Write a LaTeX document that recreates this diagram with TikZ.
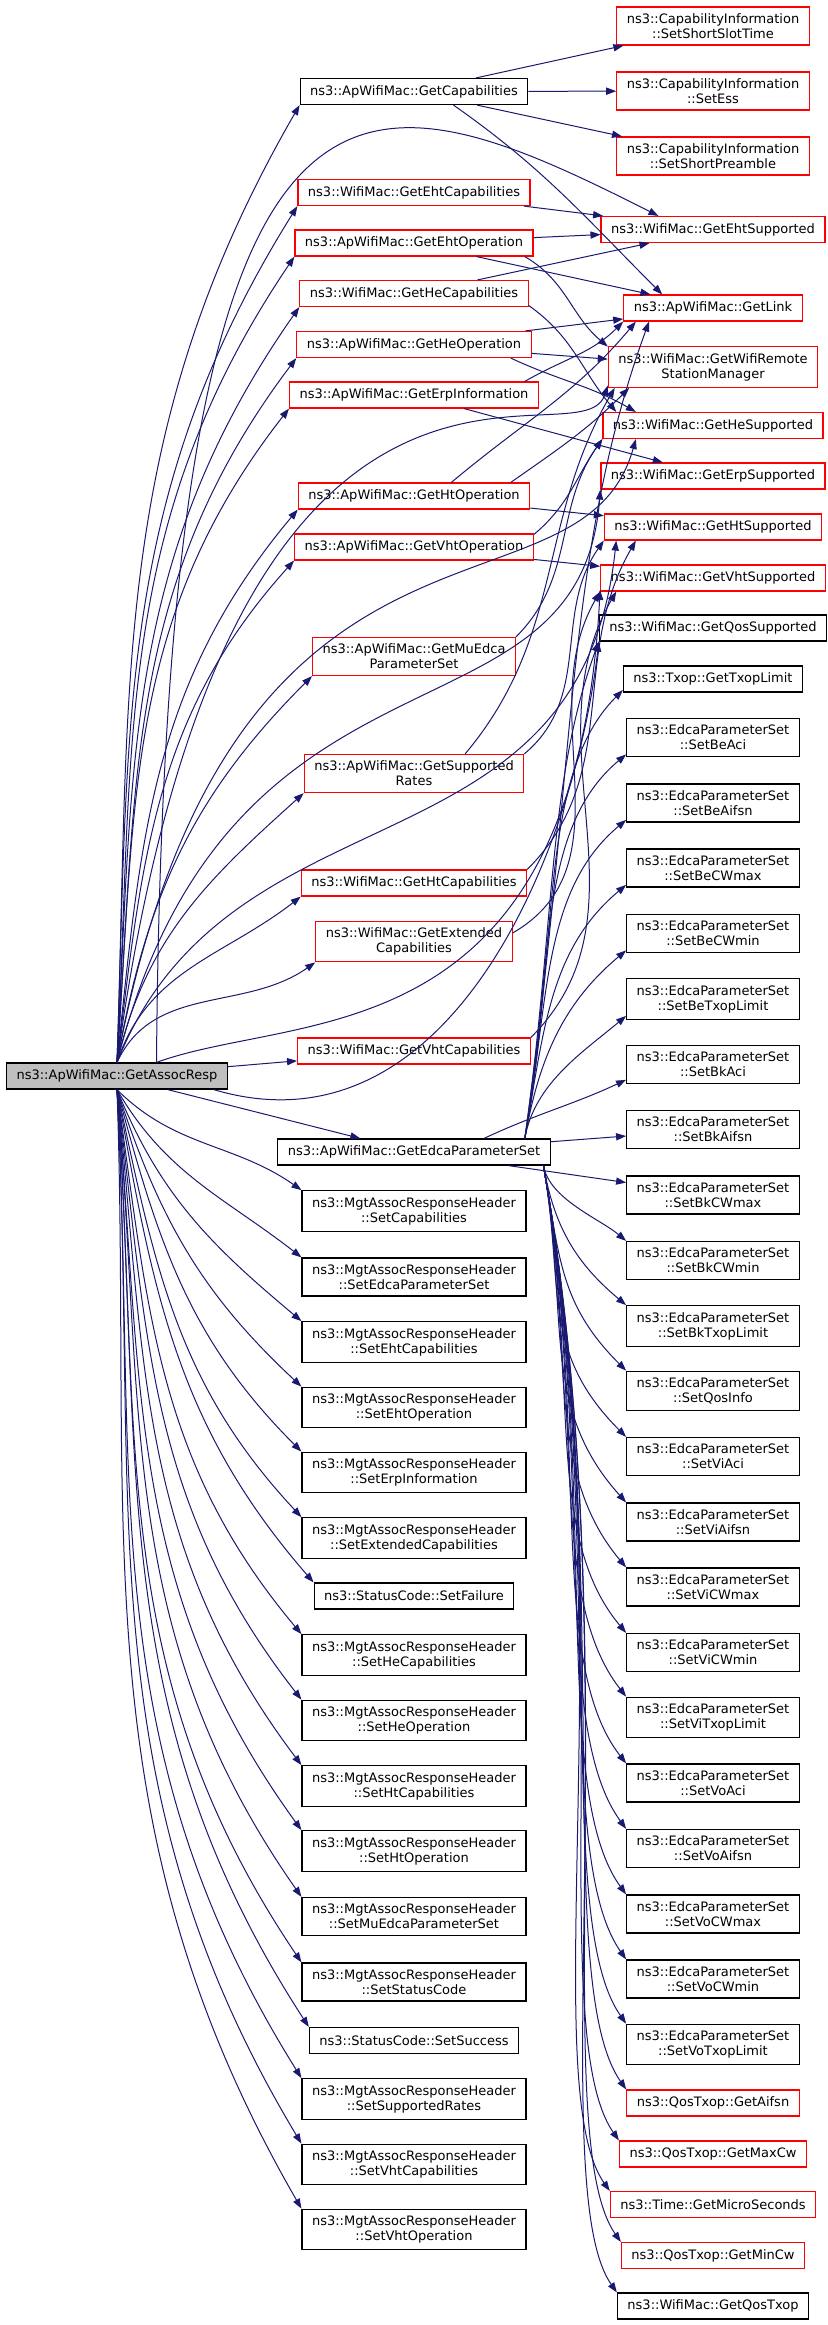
\documentclass[tikz,border=0pt]{standalone}
\usepackage{fontspec}
\usepackage{tikz}
\usetikzlibrary{arrows.meta}
\newfontfamily\graphfont{DejaVu Sans}
\definecolor{edgeblue}{RGB}{25,25,112}
\definecolor{nodered}{RGB}{255,0,0}
\definecolor{rootgrey}{RGB}{191,191,191}

\begin{document}
\begin{tikzpicture}[x=0.5pt, y=0.5pt,
   fn/.style={draw=black, line width=0.6pt, font=\graphfont\fontsize{6.5}{7.5}\selectfont,
     inner xsep=5pt, inner ysep=3.25pt, minimum height=13pt, align=center},
   fnred/.style={fn, draw=nodered},
   fnroot/.style={fn, fill=rootgrey},
   call/.style={-{Stealth[length=5pt, width=3.6pt, inset=0pt]}, edgeblue, line width=0.5pt}]

  \useasboundingbox (0,0) rectangle (828,-2325);

  % caller
  \node[fnroot] (assocresp) at (117,-1076) {ns3::ApWifiMac::GetAssocResp};

  % middle column: direct callees
  \node[fn] (getcap) at (414,-91.5) {ns3::ApWifiMac::GetCapabilities};
  \node[fnred] (ehtcap) at (414,-192.5) {ns3::WifiMac::GetEhtCapabilities};
  \node[fnred] (ehtop) at (414,-243) {ns3::ApWifiMac::GetEhtOperation};
  \node[fnred] (hecap) at (414,-293.5) {ns3::WifiMac::GetHeCapabilities};
  \node[fnred] (heop) at (414,-344.5) {ns3::ApWifiMac::GetHeOperation};
  \node[fnred] (erpinfo) at (414,-395) {ns3::ApWifiMac::GetErpInformation};
  \node[fnred] (htop) at (414,-496) {ns3::ApWifiMac::GetHtOperation};
  \node[fnred] (vhtop) at (414,-547) {ns3::ApWifiMac::GetVhtOperation};
  \node[fnred] (muedca) at (414,-656.5) {ns3::ApWifiMac::GetMuEdca\\ParameterSet};
  \node[fnred] (suprates) at (414,-773.5) {ns3::ApWifiMac::GetSupported\\Rates};
  \node[fnred] (htcap) at (414,-883) {ns3::WifiMac::GetHtCapabilities};
  \node[fnred] (extcap) at (414,-941.5) {ns3::WifiMac::GetExtended\\Capabilities};
  \node[fnred] (vhtcap) at (414,-1051) {ns3::WifiMac::GetVhtCapabilities};
  \node[fn] (edcaset) at (414,-1152) {ns3::ApWifiMac::GetEdcaParameterSet};
  \node[fn] (mcap) at (414,-1211) {ns3::MgtAssocResponseHeader\\::SetCapabilities};
  \node[fn] (medca) at (414,-1277) {ns3::MgtAssocResponseHeader\\::SetEdcaParameterSet};
  \node[fn] (mehtcap) at (414,-1342) {ns3::MgtAssocResponseHeader\\::SetEhtCapabilities};
  \node[fn] (mehtop) at (414,-1407.5) {ns3::MgtAssocResponseHeader\\::SetEhtOperation};
  \node[fn] (merp) at (414,-1472.5) {ns3::MgtAssocResponseHeader\\::SetErpInformation};
  \node[fn] (mext) at (414,-1538) {ns3::MgtAssocResponseHeader\\::SetExtendedCapabilities};
  \node[fn] (sfail) at (414,-1596) {ns3::StatusCode::SetFailure};
  \node[fn] (mhecap) at (414,-1655) {ns3::MgtAssocResponseHeader\\::SetHeCapabilities};
  \node[fn] (mheop) at (414,-1720.5) {ns3::MgtAssocResponseHeader\\::SetHeOperation};
  \node[fn] (mhtcap) at (414,-1786) {ns3::MgtAssocResponseHeader\\::SetHtCapabilities};
  \node[fn] (mhtop) at (414,-1851) {ns3::MgtAssocResponseHeader\\::SetHtOperation};
  \node[fn] (mmuedca) at (414,-1916.5) {ns3::MgtAssocResponseHeader\\::SetMuEdcaParameterSet};
  \node[fn] (mstatus) at (414,-1982) {ns3::MgtAssocResponseHeader\\::SetStatusCode};
  \node[fn] (ssucc) at (414,-2040.5) {ns3::StatusCode::SetSuccess};
  \node[fn] (mrates) at (414,-2099) {ns3::MgtAssocResponseHeader\\::SetSupportedRates};
  \node[fn] (mvhtcap) at (414,-2164.5) {ns3::MgtAssocResponseHeader\\::SetVhtCapabilities};
  \node[fn] (mvhtop) at (414,-2229.5) {ns3::MgtAssocResponseHeader\\::SetVhtOperation};

  % right column
  \node[fnred] (sst) at (713,-26) {ns3::CapabilityInformation\\::SetShortSlotTime};
  \node[fnred] (ess) at (713,-91) {ns3::CapabilityInformation\\::SetEss};
  \node[fnred] (spre) at (713,-156) {ns3::CapabilityInformation\\::SetShortPreamble};
  \node[fnred] (ehtsup) at (713,-229.5) {ns3::WifiMac::GetEhtSupported};
  \node[fnred] (getlink) at (713,-308) {ns3::ApWifiMac::GetLink};
  \node[fnred] (rsm) at (713,-367) {ns3::WifiMac::GetWifiRemote\\StationManager};
  \node[fnred] (hesup) at (713,-425.5) {ns3::WifiMac::GetHeSupported};
  \node[fnred] (erpsup) at (713,-476) {ns3::WifiMac::GetErpSupported};
  \node[fnred] (htsup) at (713,-527) {ns3::WifiMac::GetHtSupported};
  \node[fnred] (vhtsup) at (713,-578) {ns3::WifiMac::GetVhtSupported};
  \node[fn] (qossup) at (713,-628) {ns3::WifiMac::GetQosSupported};
  \node[fn] (txoplim) at (713,-679) {ns3::Txop::GetTxopLimit};
  \node[fn] (beaci) at (713,-737.5) {ns3::EdcaParameterSet\\::SetBeAci};
  \node[fn] (beaifsn) at (713,-803) {ns3::EdcaParameterSet\\::SetBeAifsn};
  \node[fn] (becwmax) at (713,-868) {ns3::EdcaParameterSet\\::SetBeCWmax};
  \node[fn] (becwmin) at (713,-933.5) {ns3::EdcaParameterSet\\::SetBeCWmin};
  \node[fn] (betxop) at (713,-999) {ns3::EdcaParameterSet\\::SetBeTxopLimit};
  \node[fn] (bkaci) at (713,-1064.5) {ns3::EdcaParameterSet\\::SetBkAci};
  \node[fn] (bkaifsn) at (713,-1129.5) {ns3::EdcaParameterSet\\::SetBkAifsn};
  \node[fn] (bkcwmax) at (713,-1195) {ns3::EdcaParameterSet\\::SetBkCWmax};
  \node[fn] (bkcwmin) at (713,-1260.5) {ns3::EdcaParameterSet\\::SetBkCWmin};
  \node[fn] (bktxop) at (713,-1326) {ns3::EdcaParameterSet\\::SetBkTxopLimit};
  \node[fn] (qosinfo) at (713,-1391) {ns3::EdcaParameterSet\\::SetQosInfo};
  \node[fn] (viaci) at (713,-1456.5) {ns3::EdcaParameterSet\\::SetViAci};
  \node[fn] (viaifsn) at (713,-1522) {ns3::EdcaParameterSet\\::SetViAifsn};
  \node[fn] (vicwmax) at (713,-1587) {ns3::EdcaParameterSet\\::SetViCWmax};
  \node[fn] (vicwmin) at (713,-1652.5) {ns3::EdcaParameterSet\\::SetViCWmin};
  \node[fn] (vitxop) at (713,-1717.5) {ns3::EdcaParameterSet\\::SetViTxopLimit};
  \node[fn] (voaci) at (713,-1783) {ns3::EdcaParameterSet\\::SetVoAci};
  \node[fn] (voaifsn) at (713,-1848.5) {ns3::EdcaParameterSet\\::SetVoAifsn};
  \node[fn] (vocwmax) at (713,-1914) {ns3::EdcaParameterSet\\::SetVoCWmax};
  \node[fn] (vocwmin) at (713,-1979) {ns3::EdcaParameterSet\\::SetVoCWmin};
  \node[fn] (votxop) at (713,-2044.5) {ns3::EdcaParameterSet\\::SetVoTxopLimit};
  \node[fnred] (aifsn) at (713,-2103) {ns3::QosTxop::GetAifsn};
  \node[fnred] (maxcw) at (713,-2154) {ns3::QosTxop::GetMaxCw};
  \node[fnred] (micro) at (713,-2204.5) {ns3::Time::GetMicroSeconds};
  \node[fnred] (mincw) at (713,-2255.5) {ns3::QosTxop::GetMinCw};
  \node[fn] (qostxop) at (713,-2306) {ns3::WifiMac::GetQosTxop};

  % caller -> middle column, upper fan
  \draw[call] (assocresp.north) to[out=88,in=240] (getcap.south west);
  \draw[call] (assocresp.north) to[out=88,in=238] (ehtcap.south west);
  \draw[call] (assocresp.north) to[out=87,in=236] (ehtop.south west);
  \draw[call] (assocresp.north) to[out=87,in=235] (hecap.south west);
  \draw[call] (assocresp.north) to[out=86,in=233] (heop.south west);
  \draw[call] (assocresp.north) to[out=86,in=232] (erpinfo.south west);
  \draw[call] (assocresp.north) to[out=84,in=230] (htop.south west);
  \draw[call] (assocresp.north) to[out=83,in=228] (vhtop.south west);
  \draw[call] (assocresp.north) to[out=80,in=225] (muedca.south west);
  \draw[call] (assocresp.north) to[out=77,in=222] (suprates.south west);
  \draw[call] (assocresp.north) to[out=72,in=218] (htcap.south west);
  \draw[call] (assocresp.north) to[out=65,in=215] (extcap.south west);
  \draw[call] (assocresp) -- (vhtcap);
  \draw[call] (assocresp.-15) -- (edcaset);

  % caller -> middle column, lower fan
  \draw[call] (assocresp.south) to[out=-45,in=145] (mcap.north west);
  \draw[call] (assocresp.south) to[out=-60,in=142] (medca.north west);
  \draw[call] (assocresp.south) to[out=-68,in=140] (mehtcap.north west);
  \draw[call] (assocresp.south) to[out=-72,in=137] (mehtop.north west);
  \draw[call] (assocresp.south) to[out=-75,in=135] (merp.north west);
  \draw[call] (assocresp.south) to[out=-78,in=133] (mext.north west);
  \draw[call] (assocresp.south) to[out=-80,in=131] (sfail.north west);
  \draw[call] (assocresp.south) to[out=-82,in=130] (mhecap.north west);
  \draw[call] (assocresp.south) to[out=-83,in=128] (mheop.north west);
  \draw[call] (assocresp.south) to[out=-84,in=127] (mhtcap.north west);
  \draw[call] (assocresp.south) to[out=-85,in=126] (mhtop.north west);
  \draw[call] (assocresp.south) to[out=-85,in=125] (mmuedca.north west);
  \draw[call] (assocresp.south) to[out=-86,in=124] (mstatus.north west);
  \draw[call] (assocresp.south) to[out=-86,in=123] (ssucc.north west);
  \draw[call] (assocresp.south) to[out=-87,in=122] (mrates.north west);
  \draw[call] (assocresp.south) to[out=-87,in=121] (mvhtcap.north west);
  \draw[call] (assocresp.south) to[out=-88,in=120] (mvhtop.north west);

  % caller -> right column
  \draw[call] (assocresp.19) .. controls (165,0) and (350,-60) .. (ehtsup.166);
  \draw[call] (assocresp.north) .. controls (230,-240) and (580,-470) .. (rsm.190);
  \draw[call] (assocresp.north) .. controls (230,-457) and (580,-637) .. (hesup.190);
  \draw[call] (assocresp.north) .. controls (230,-614) and (580,-758) .. (erpsup.south west);
  \draw[call] (assocresp.north) .. controls (230,-777) and (580,-883) .. (htsup.188);
  \draw[call] (assocresp.19) .. controls (300,-1010) and (575,-1060) .. (vhtsup.186);
  \draw[call] (assocresp.-8) .. controls (450,-1160) and (575,-850) .. (qossup.south west);

  % middle column -> right column
  \draw[call] (getcap) -- (sst);
  \draw[call] (getcap) -- (ess);
  \draw[call] (getcap) -- (spre);
  \draw[call] (getcap.-19) to[out=-35,in=135] (getlink.165);
  \draw[call] (ehtcap) -- (ehtsup);
  \draw[call] (ehtop) -- (ehtsup);
  \draw[call] (ehtop) -- (getlink);
  \draw[call] (ehtop.-7) to[out=-30,in=140] (rsm.169);
  \draw[call] (hecap) -- (ehtsup);
  \draw[call] (hecap.-6) to[out=-35,in=130] (hesup.172);
  \draw[call] (heop) -- (getlink);
  \draw[call] (heop) -- (rsm);
  \draw[call] (heop.-8) to[out=-25,in=150] (hesup.170);
  \draw[call] (erpinfo.7) to[out=30,in=225] (getlink.south west);
  \draw[call] (erpinfo) -- (erpsup);
  \draw[call] (htop.20) to[out=40,in=230] (getlink.190);
  \draw[call] (htop.8) to[out=35,in=225] (rsm.194);
  \draw[call] (htop) -- (htsup);
  \draw[call] (vhtop.6) to[out=40,in=235] (hesup.south west);
  \draw[call] (vhtop) -- (vhtsup);
  \draw[call] (muedca.north east) to[out=45,in=235] (hesup.187);
  \draw[call] (suprates.21) to[out=50,in=240] (rsm.192);
  \draw[call] (suprates.north east) to[out=40,in=235] (htsup.south west);
  \draw[call] (htcap.north east) to[out=45,in=240] (htsup.190);
  \draw[call] (extcap.5) to[out=30,in=240] (vhtsup.south west);
  \draw[call] (vhtcap.north east) to[out=45,in=240] (vhtsup.188);

  % GetEdcaParameterSet, upwards
  \draw[call] (edcaset.7) to[out=82,in=250,out distance=185pt,in distance=125pt] (getlink.192);
  \draw[call] (edcaset.7) to[out=82,in=250,out distance=110pt,in distance=75pt] (qossup.south west);
  \draw[call] (edcaset.7) to[out=80,in=225,out distance=100pt,in distance=60pt] (txoplim.187);
  \draw[call] (edcaset.7) to[out=80,in=220,out distance=85pt,in distance=60pt] (beaci.191);
  \draw[call] (edcaset.7) to[out=80,in=220,out distance=70pt,in distance=55pt] (beaifsn.191);
  \draw[call] (edcaset.7) to[out=80,in=220,out distance=55pt,in distance=50pt] (becwmax.191);
  \draw[call] (edcaset.7) to[out=80,in=220,out distance=42pt,in distance=40pt] (becwmin.191);
  \draw[call] (edcaset.7) to[out=80,in=220,out distance=28pt,in distance=28pt] (betxop.191);
  \draw[call] (edcaset.11) to[out=25,in=205] (bkaci.190);
  \draw[call] (edcaset) -- (bkaifsn);
  \draw[call] (edcaset) -- (bkcwmax);

  % GetEdcaParameterSet, downwards
  \draw[call] (edcaset.-6) to[out=-80,in=140,out distance=17pt,in distance=17pt] (bkcwmin.north west);
  \draw[call] (edcaset.-6) to[out=-80,in=140,out distance=32pt,in distance=32pt] (bktxop.north west);
  \draw[call] (edcaset.-6) to[out=-80,in=135,out distance=47pt,in distance=47pt] (qosinfo.north west);
  \draw[call] (edcaset.-6) to[out=-80,in=135,out distance=61pt,in distance=61pt] (viaci.north west);
  \draw[call] (edcaset.-6) to[out=-80,in=132,out distance=76pt,in distance=65pt] (viaifsn.north west);
  \draw[call] (edcaset.-6) to[out=-80,in=130,out distance=90pt,in distance=65pt] (vicwmax.north west);
  \draw[call] (edcaset.-6) to[out=-80,in=130,out distance=105pt,in distance=65pt] (vicwmin.north west);
  \draw[call] (edcaset.-6) to[out=-80,in=128,out distance=120pt,in distance=65pt] (vitxop.north west);
  \draw[call] (edcaset.-6) to[out=-80,in=128,out distance=135pt,in distance=65pt] (voaci.north west);
  \draw[call] (edcaset.-6) to[out=-80,in=126,out distance=149pt,in distance=65pt] (voaifsn.north west);
  \draw[call] (edcaset.-6) to[out=-80,in=126,out distance=164pt,in distance=65pt] (vocwmax.north west);
  \draw[call] (edcaset.-6) to[out=-80,in=125,out distance=179pt,in distance=65pt] (vocwmin.north west);
  \draw[call] (edcaset.-6) to[out=-80,in=125,out distance=194pt,in distance=65pt] (votxop.north west);
  \draw[call] (edcaset.-6) to[out=-80,in=125,out distance=208pt,in distance=65pt] (aifsn.north west);
  \draw[call] (edcaset.-6) to[out=-80,in=125,out distance=220pt,in distance=65pt] (maxcw.north west);
  \draw[call] (edcaset.-6) to[out=-80,in=125,out distance=231pt,in distance=65pt] (micro.north west);
  \draw[call] (edcaset.-6) to[out=-80,in=125,out distance=243pt,in distance=65pt] (mincw.north west);
  \draw[call] (edcaset.-6) to[out=-80,in=125,out distance=254pt,in distance=65pt] (qostxop.north west);
\end{tikzpicture}
\end{document}
